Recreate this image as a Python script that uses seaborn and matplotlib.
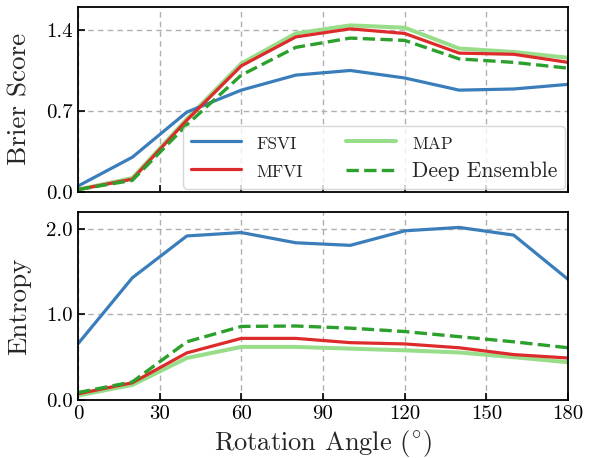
import matplotlib
matplotlib.use("Agg")
import matplotlib.pyplot as plt
import seaborn as sns
import pandas as pd
import numpy as np

angles = [0, 20, 40, 60, 80, 100, 120, 140, 160, 180]
methods = ["FSVI", "MFVI", "MAP", "Deep Ensemble"]

brier_fsvi = [0.05, 0.30, 0.69, 0.88, 1.01, 1.05, 0.985, 0.88, 0.89, 0.93]
brier_mfvi = [0.02, 0.11, 0.62, 1.09, 1.34, 1.41, 1.37, 1.20, 1.19, 1.12]
brier_map = [0.02, 0.12, 0.63, 1.11, 1.37, 1.44, 1.42, 1.24, 1.21, 1.16]
brier_de = [0.02, 0.10, 0.58, 1.01, 1.25, 1.33, 1.31, 1.15, 1.12, 1.07]

ent_fsvi = [0.655, 1.43, 1.92, 1.96, 1.84, 1.81, 1.98, 2.02, 1.93, 1.41]
ent_mfvi = [0.07, 0.20, 0.55, 0.72, 0.72, 0.67, 0.655, 0.61, 0.53, 0.49]
ent_map = [0.05, 0.175, 0.49, 0.62, 0.62, 0.60, 0.58, 0.555, 0.50, 0.44]
ent_de = [0.085, 0.21, 0.68, 0.86, 0.865, 0.84, 0.80, 0.74, 0.68, 0.61]

colors = {"FSVI": "#3a7dbb", "MFVI": "#dd2a2a", "MAP": "#98de8a", "Deep Ensemble": "#2ca02c"}

sns.set_style("ticks")
plt.rcParams["font.family"] = ["cmr10"]
plt.rcParams["mathtext.fontset"] = "cm"
plt.rcParams["axes.formatter.use_mathtext"] = True

def make_df(vals):
    rows = []
    for m, v in zip(methods, vals):
        for a, y in zip(angles, v):
            rows.append({"angle": a, "value": y, "method": m})
    return pd.DataFrame(rows)

df_b = make_df([brier_fsvi, brier_mfvi, brier_map, brier_de])
df_e = make_df([ent_fsvi, ent_mfvi, ent_map, ent_de])

fig = plt.figure(figsize=(5.9, 4.58), dpi=100)
ax1 = fig.add_axes([0.132, 0.581, 0.831, 0.404])
ax2 = fig.add_axes([0.132, 0.127, 0.831, 0.410])

widths = {"FSVI": 2.3, "MFVI": 2.3, "MAP": 2.9, "Deep Ensemble": 2.4}
styles = {"FSVI": "-", "MFVI": "-", "MAP": "-", "Deep Ensemble": "--"}
order = ["MAP", "FSVI", "MFVI", "Deep Ensemble"]

for ax, df in [(ax1, df_b), (ax2, df_e)]:
    for m in order:
        sub = df[df.method == m]
        sns.lineplot(data=sub, x="angle", y="value", ax=ax, color=colors[m],
                     linewidth=widths[m], linestyle=styles[m], label=m, legend=False)
    ax.set_xlim(0, 180)
    ax.set_xticks([0, 30, 60, 90, 120, 150, 180])
    ax.grid(True, linestyle=(0, (4, 3)), color="#b0b0b0", linewidth=1.0)
    ax.tick_params(direction="in", labelsize=15, length=5, width=1.2, colors="black")
    for s in ax.spines.values():
        s.set_linewidth(1.3)
        s.set_color("black")
    ax.set_axisbelow(True)

ax1.set_ylim(0, 1.6)
ax1.set_yticks([0.0, 0.7, 1.4])
ax1.set_yticklabels(["0.0", "0.7", "1.4"])
ax1.set_xticklabels([])
ax1.set_xlabel("")
ax1.set_ylabel("Brier Score", fontsize=19.5)

ax2.set_ylim(0, 2.2)
ax2.set_yticks([0.0, 1.0, 2.0])
ax2.set_yticklabels(["0.0", "1.0", "2.0"])
ax2.set_xticklabels(["0", "30", "60", "90", "120", "150", "180"])
ax2.set_xlabel("Rotation Angle ($^{\\circ}$)", fontsize=19)
ax2.set_ylabel("Entropy", fontsize=19.5)

ax1.yaxis.set_label_coords(-0.095, 0.5)
ax2.yaxis.set_label_coords(-0.095, 0.5)

handles, labels = ax1.get_legend_handles_labels()
hmap = dict(zip(labels, handles))
leg_order = ["FSVI", "MFVI", "MAP", "Deep Ensemble"]
leg = ax1.legend([hmap[l] for l in leg_order], ["FSVI", "MFVI", "MAP", "Deep Ensemble"],
                 loc="lower right", ncol=2, fontsize=15.5, frameon=True, fancybox=True,
                 framealpha=0.8, edgecolor="#cccccc", handlelength=2.3, columnspacing=2.0,
                 handletextpad=0.75, labelspacing=0.45, borderpad=0.35,
                 borderaxespad=0.15)
for t in leg.get_texts():
    if t.get_text() != "Deep Ensemble":
        t.set_fontsize(12.5)

fig.savefig("out.png", dpi=100)
